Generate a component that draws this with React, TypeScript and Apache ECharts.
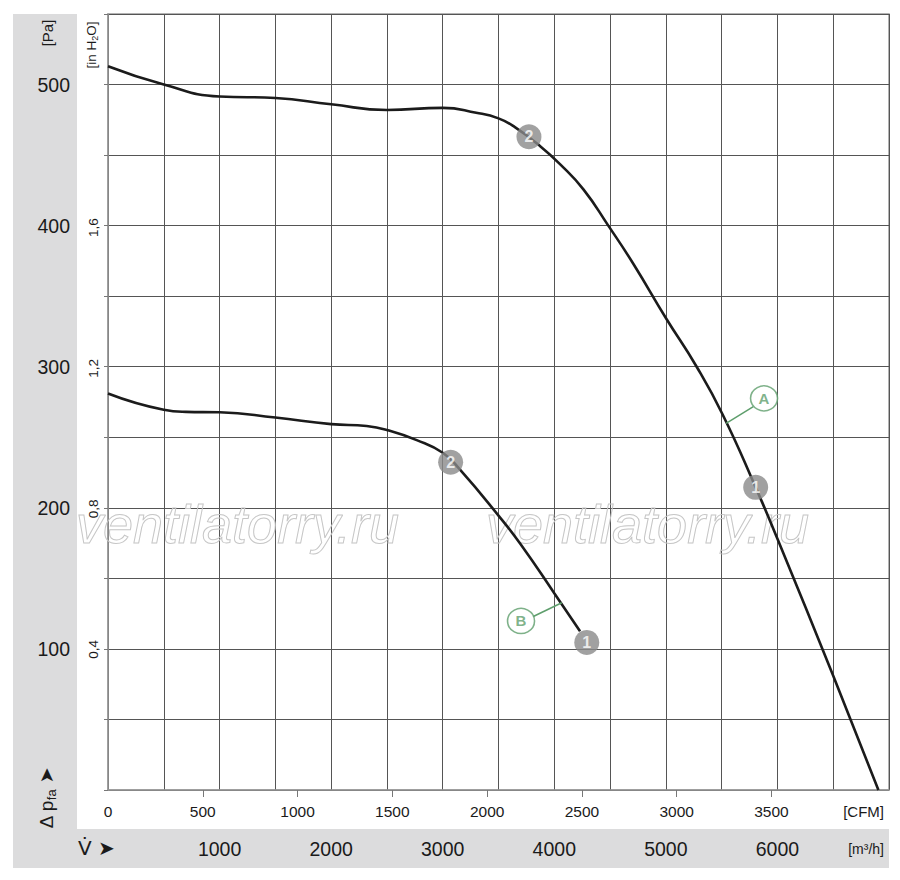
import React, { useEffect, useRef } from "react";
import * as echarts from "echarts";

// ---- data (x: m³/h, y: Pa) ----
const curveA: [number, number][] = [
  [0, 513], [500, 500], [1000, 491.5], [1500, 490.5], [2000, 486], [2500, 482],
  [3000, 483.5], [3300, 480], [3500, 476], [3650, 469.6], [3872, 456.4], [4051, 443.6],
  [4261, 425.7], [4484, 400], [4708, 373], [5000, 334.5], [5276, 300], [5510, 266],
  [5805, 214.5], [6000, 178], [6500, 81], [6905, 0],
];
const curveB: [number, number][] = [
  [0, 281], [500, 269.5], [700, 268], [1000, 267.7], [1500, 264], [2000, 259.3],
  [2318, 258], [2500, 255.2], [2767, 248], [3000, 239], [3155, 227], [3500, 194.5],
  [3700, 174], [4000, 139.5], [4231, 112.5],
];
const pointsA: [number, number, string][] = [[3773, 463, "2"], [5805, 214.5, "1"]];
const pointsB: [number, number, string][] = [[3071, 232.3, "2"], [4291, 104.6, "1"]];
const tags: [number, number, string][] = [[5880, 277.6, "A"], [3702, 119.8, "B"]];
const leaderA: [number, number][] = [[5540, 259.9], [5784, 271.7]];
const leaderB: [number, number][] = [[4067, 132.7], [3807, 122.8]];

const m3hLabels = [1000, 2000, 3000, 4000, 5000, 6000];
const cfmLabels = [0, 500, 1000, 1500, 2000, 2500, 3000, 3500];
const cfmTicks = [500, 1000, 1500, 2000, 2500, 3000, 3500];
const paLabels = [100, 200, 300, 400, 500];
const inH2OLabels = [0.4, 0.8, 1.2, 1.6];

const M3H_PER_CFM = 1.699;
const PA_PER_INH2O = 249.089;
const X_MAX = 7000;
const Y_MAX = 550;

const TXT = "#1a1a1a";
const GREEN = "#5e9e6c";
const MARK = "#8a8a8a";
const SANS = "'Liberation Sans', Arial, sans-serif";

export default function App() {
  const ref = useRef<HTMLDivElement>(null);
  useEffect(() => {
    if (!ref.current) return;
    const chart = echarts.init(ref.current, undefined, { renderer: "svg" });
    const markerSeries = (pts: [number, number, string][]) => ({
      type: "scatter",
      z: 4,
      symbol: "circle",
      symbolSize: 25,
      itemStyle: { color: MARK },
      label: {
        show: true,
        position: "inside",
        formatter: (p: any) => p.name,
        color: "#fff",
        fontWeight: "bold",
        fontSize: 16,
        fontFamily: SANS,
      },
      data: pts.map((p) => ({ name: p[2], value: [p[0], p[1]] })),
    });
    const leader = (d: [number, number][]) => ({
      type: "line",
      z: 3,
      symbol: "none",
      lineStyle: { color: GREEN, width: 1.5 },
      data: d,
    });
    chart.setOption({
      animation: false,
      backgroundColor: "#fff",
      grid: {
        left: 108, right: 11, top: 14, bottom: 90,
        show: true, borderColor: "#9a9a9a", borderWidth: 1.5, backgroundColor: "#fff",
      },
      xAxis: [
        {
          type: "value", min: 0, max: X_MAX, interval: 500, position: "bottom",
          axisLine: { show: true, lineStyle: { color: "#999", width: 1.5 } },
          axisTick: { show: false },
          splitLine: { show: true, lineStyle: { color: "#555", width: 1 } },
          axisLabel: {
            customValues: m3hLabels, margin: 49, fontSize: 19.5, fontFamily: SANS, color: TXT,
            formatter: (v: number) => String(v),
          },
        },
        {
          type: "value", min: 0, max: X_MAX / M3H_PER_CFM, position: "bottom",
          axisLine: { show: false },
          axisTick: { show: true, customValues: cfmTicks, length: 7, lineStyle: { color: "#777" } },
          splitLine: { show: false },
          axisLabel: {
            customValues: cfmLabels, margin: 13, fontSize: 15.5, fontFamily: SANS, color: TXT,
            formatter: (v: number) => String(v),
          },
        },
      ],
      yAxis: [
        {
          type: "value", min: 0, max: Y_MAX, interval: 50, position: "left",
          axisLine: { show: true, lineStyle: { color: "#999", width: 1.5 } },
          axisTick: { show: true, length: 4, lineStyle: { color: "#777" } },
          splitLine: { show: true, lineStyle: { color: "#555", width: 1 } },
          axisLabel: {
            customValues: paLabels, margin: 38, fontSize: 19.5, fontFamily: SANS, color: TXT,
            formatter: (v: number) => String(v),
          },
        },
        {
          type: "value", min: 0, max: Y_MAX / PA_PER_INH2O, position: "left",
          axisLine: { show: false }, axisTick: { show: false }, splitLine: { show: false },
          axisLabel: {
            customValues: inH2OLabels, rotate: 90, margin: 8, fontSize: 13.5, fontFamily: SANS,
            color: TXT, formatter: (v: number) => v.toFixed(1).replace(".", ","),
          },
        },
      ],
      graphic: [
        { type: "rect", z: -10, shape: { x: 13, y: 14, width: 64, height: 854 }, style: { fill: "#dcdcdd" } },
        { type: "rect", z: -10, shape: { x: 13, y: 829, width: 876, height: 39 }, style: { fill: "#dcdcdd" } },
        {
          type: "text", x: 47, y: 33, rotation: Math.PI / 2, z: 5,
          style: { text: "[Pa]", fontSize: 15, fontFamily: SANS, fill: TXT, align: "center", verticalAlign: "middle", textAlign: "center", textVerticalAlign: "middle" },
        },
        {
          type: "text", x: 91, y: 45, rotation: Math.PI / 2, z: 5,
          style: {
            text: "[in H{s|2}O]", fontSize: 13.5, fontFamily: SANS, fill: TXT,
            align: "center", verticalAlign: "middle", textAlign: "center", textVerticalAlign: "middle",
            rich: { s: { fontSize: 9, fontFamily: SANS, fill: TXT, padding: [8, 0, 0, 0] } },
          },
        },
        {
          type: "text", x: 46, y: 798, rotation: Math.PI / 2, z: 5,
          style: {
            text: "{a|Δ p}{s|fa}{r| ➤}", fontSize: 19, fontFamily: SANS, fill: TXT,
            align: "center", verticalAlign: "middle", textAlign: "center", textVerticalAlign: "middle",
            rich: {
              a: { fontSize: 19, fontFamily: SANS, fill: TXT },
              s: { fontSize: 13, fontFamily: SANS, fill: TXT, padding: [10, 0, 0, 0] },
              r: { fontSize: 19, fontFamily: "'DejaVu Sans'", fill: TXT },
            },
          },
        },
        {
          type: "text", x: 78, y: 848, z: 5,
          style: {
            text: "{v|V\u0307}{r| ➤}", fontSize: 20, fontFamily: SANS, fill: TXT,
            align: "left", verticalAlign: "middle", textAlign: "left", textVerticalAlign: "middle",
            rich: {
              v: { fontSize: 20, fontFamily: "'DejaVu Sans'", fill: TXT },
              r: { fontSize: 20, fontFamily: "'DejaVu Sans'", fill: TXT },
            },
          },
        },
        {
          type: "text", x: 884, y: 811, z: 5,
          style: { text: "[CFM]", fontSize: 15, fontFamily: SANS, fill: TXT, align: "right", verticalAlign: "middle", textAlign: "right", textVerticalAlign: "middle" },
        },
        {
          type: "text", x: 884, y: 849, z: 5,
          style: { text: "[m³/h]", fontSize: 14, fontFamily: SANS, fill: TXT, align: "right", verticalAlign: "middle", textAlign: "right", textVerticalAlign: "middle" },
        },
        {
          type: "text", x: 76, y: 524, z: 1,
          style: { text: "ventilatorry.ru", fontSize: 54, fontStyle: "italic", fontFamily: SANS, fill: "rgba(255,255,255,0)", stroke: "#c6c6c6", lineWidth: 1, align: "left", verticalAlign: "middle", textAlign: "left", textVerticalAlign: "middle" },
        },
        {
          type: "text", x: 486, y: 524, z: 1,
          style: { text: "ventilatorry.ru", fontSize: 54, fontStyle: "italic", fontFamily: SANS, fill: "rgba(255,255,255,0)", stroke: "#c6c6c6", lineWidth: 1, align: "left", verticalAlign: "middle", textAlign: "left", textVerticalAlign: "middle" },
        },
      ],
      series: [
        {
          type: "line", z: 2, smooth: 0.5, symbol: "none",
          lineStyle: { color: "#1b1b1b", width: 2.6 }, data: curveA,
        },
        {
          type: "line", z: 2, smooth: 0.5, symbol: "none",
          lineStyle: { color: "#1b1b1b", width: 2.6 }, data: curveB,
        },
        leader(leaderA),
        leader(leaderB),
        markerSeries(pointsA),
        markerSeries(pointsB),
        {
          type: "scatter", z: 4, symbol: "circle", symbolSize: [27, 25],
          itemStyle: { color: "#fff", borderColor: GREEN, borderWidth: 1.5 },
          label: {
            show: true, position: "inside", formatter: (p: any) => p.name,
            color: GREEN, fontWeight: "bold", fontSize: 15, fontFamily: SANS,
          },
          data: tags.map((t) => ({ name: t[2], value: [t[0], t[1]] })),
        },
      ],
    });
    return () => chart.dispose();
  }, []);
  return (
    <div
      ref={ref}
      style={{ position: "fixed", left: 0, top: 0, width: 900, height: 880, background: "#fff" }}
    />
  );
}
